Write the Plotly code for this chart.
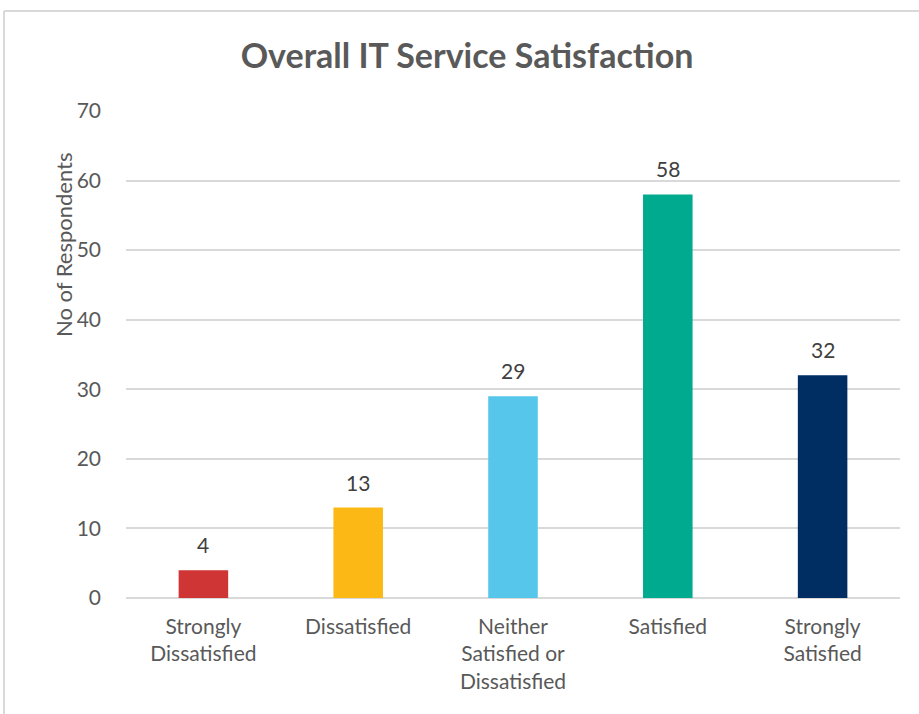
import plotly.graph_objects as go

categories = ["Strongly<br>Dissatisfied", "Dissatisfied", "Neither<br>Satisfied or<br>Dissatisfied",
              "Satisfied", "Strongly<br>Satisfied"]
values = [4, 13, 29, 58, 32]
colors = ["#D03535", "#FCB814", "#57C6EB", "#00AA8E", "#002E62"]
y_ticks = [0, 10, 20, 30, 40, 50, 60, 70]

FONT = "Lato"
GRAY = "#595959"

fig = go.Figure()
fig.add_trace(go.Bar(
    x=categories, y=values, marker=dict(color=colors, line=dict(width=0)),
    width=0.32, hoverinfo="x+y",
))

for c, v in zip(categories, values):
    fig.add_annotation(x=c, y=v, text=str(v), showarrow=False, yanchor="bottom",
                       yshift=11, font=dict(family=FONT, size=21, color="#404040"))

W, H = 919, 714
L, R, T, B = 126, 19, 111, 116
pw, ph = W - L - R, H - T - B

def px_x(x):
    return (x - L) / pw

def px_y(y):
    return (H - B - y) / ph

# chart border (top and left visible)
fig.add_shape(type="line", xref="paper", yref="paper", x0=px_x(4), x1=px_x(925),
              y0=px_y(11), y1=px_y(11), line=dict(color="#D9D9D9", width=2))
fig.add_shape(type="line", xref="paper", yref="paper", x0=px_x(4), x1=px_x(4),
              y0=px_y(11), y1=px_y(720), line=dict(color="#D9D9D9", width=2))

fig.add_annotation(xref="paper", yref="paper", x=px_x(64), y=px_y(245),
                   xanchor="center", yanchor="middle",
                   text="No of Respondents", textangle=-90, showarrow=False,
                   font=dict(family=FONT, size=22, color=GRAY))

fig.update_layout(
    width=W, height=H,
    margin=dict(l=L, r=R, t=T, b=B, pad=0),
    paper_bgcolor="white", plot_bgcolor="white",
    title=dict(text="<b>Overall IT Service Satisfaction</b>", x=467 / W, xanchor="center",
               y=1 - 56 / H, yanchor="middle",
               font=dict(family=FONT, size=34, color=GRAY)),
    showlegend=False,
    bargap=0.68,
    xaxis=dict(tickfont=dict(family=FONT, size=21, color=GRAY), showgrid=False,
               showline=False, ticks="", fixedrange=True, ticklabelstandoff=14),
    yaxis=dict(range=[0, 70], tickvals=y_ticks, ticktext=[str(t) for t in y_ticks],
               tickfont=dict(family=FONT, size=21, color=GRAY),
               showgrid=True, gridcolor="#D9D9D9", gridwidth=1.5,
               zeroline=True, zerolinecolor="#D9D9D9", zerolinewidth=2,
               showline=False, ticks="", ticklabelstandoff=24, fixedrange=True),
)

fig.write_html("out.html", config={"displayModeBar": False},
               post_script="document.body.style.margin='0';")
